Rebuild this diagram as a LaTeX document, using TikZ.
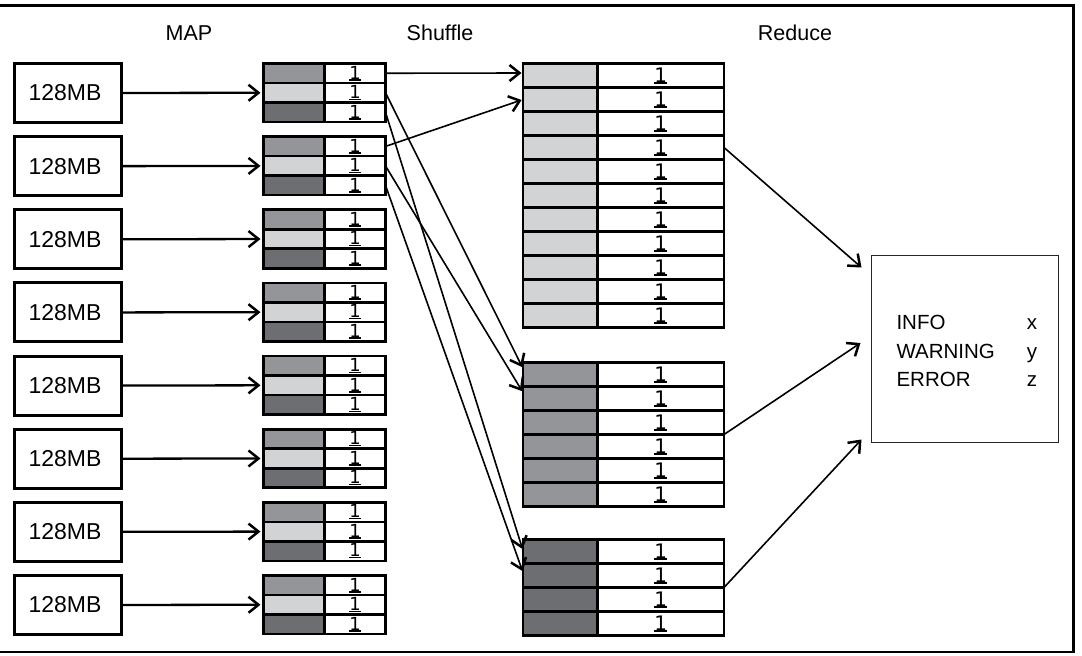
\documentclass[tikz,border=0pt]{standalone}
\usepackage{fontspec}
\setmainfont{Liberation Sans}
\newfontfamily\onefont{DejaVu Sans}
\usetikzlibrary{arrows.meta,calc}
\definecolor{gmed}{RGB}{147,149,152}
\definecolor{glight}{RGB}{209,211,212}
\definecolor{gdark}{RGB}{109,110,113}
\newcommand{\uone}{\setbox0\hbox{\onefont 1}\hbox{\copy0\llap{\rule[-1.5pt]{\wd0}{1.5pt}}}}
\begin{document}
\begin{tikzpicture}[x=1pt,y=-1pt,
  tipv/.style={-{Straight Barb[length=10pt,width=16pt,line width=2.5pt]}},
  mapar/.style={tipv, line width=2.3pt, shorten >=3pt},
  thinar/.style={tipv, line width=1.6pt},
  mapbox/.style={draw, line width=3pt, minimum width=107pt, minimum height=59pt,
    inner sep=0pt, outer sep=0pt, font=\fontsize{23}{27}\selectfont},
  bg/.style={draw, line width=2.6pt, anchor=north west, inner sep=0pt, outer sep=0pt,
    minimum width=61pt, minimum height=19.5pt},
  bw/.style={bg, fill=white, font=\fontsize{18}{19}\selectfont},
  rg/.style={draw, line width=2.5pt, anchor=north west, inner sep=0pt, outer sep=0pt,
    minimum width=74.5pt, minimum height=24pt},
  rw/.style={rg, fill=white, minimum width=126.5pt, font=\fontsize{20}{22}\selectfont},
  head/.style={anchor=base, font=\fontsize{21.5}{24}\selectfont},
  restext/.style={anchor=base west, font=\fontsize{20.5}{24}\selectfont},
  resval/.style={anchor=base, font=\fontsize{20.5}{24}\selectfont},
  resbox/.style={draw=black!85, line width=1.5pt, minimum width=187pt, minimum height=187pt,
    inner sep=0pt, outer sep=0pt}
]
\useasboundingbox (0,0) rectangle (1082,656);
\draw[line width=2.5pt] (-5,5.5) -- (1073.5,5.5) -- (1073.5,652) -- (-5,652);

\node[head] (hmap) at (189,40) {MAP};
\node[head] (hshuf) at (440,40) {Shuffle};
\node[head] (hred) at (795,40) {Reduce};

\foreach \k in {1,...,8} {
  \pgfmathsetmacro\yy{63.5+73.14*(\k-1)}
  \node[mapbox] (m\k) at (68,{\yy+29.5}) {128MB\hspace*{6pt}};
  \foreach \r/\c in {1/gmed,2/glight,3/gdark} {
    \node[bg, fill=\c] (b\k g\r) at (263.5,{\yy+19.5*(\r-1)}) {};
    \node[bw] (b\k w\r) at (324.5,{\yy+19.5*(\r-1)}) {\uone};
  }
  \draw[mapar] (m\k.east) -- (b\k g2.west);
}

\foreach \t/\ty/\n/\c in {1/63.5/11/glight, 2/362.5/6/gmed, 3/539.5/4/gdark} {
  \foreach \r in {1,...,\n} {
    \node[rg, fill=\c] (t\t g\r) at (523,{\ty+24*(\r-1)}) {};
    \node[rw] (t\t w\r) at (597.5,{\ty+24*(\r-1)}) {\uone};
  }
}

\node[resbox] (R) at (965,349) {};
\node[restext] (l1) at (893,329) {INFO};
\node[restext] (l2) at (893,358) {WARNING};
\node[restext] (l3) at (893,386) {ERROR};
\node[resval] (v1) at (1032,329) {x};
\node[resval] (v2) at (1032,358) {y};
\node[resval] (v3) at (1032,386) {z};

\draw[thinar, shorten >=1.5pt] (b1w1.east) -- ([yshift=2.5pt]t1g1.west);
\draw[thinar, shorten >=1.5pt] (b2w1.east) -- (t1g2.west);
\draw[thinar, shorten >=1.5pt] (b1w2.east) -- ([yshift=6pt]t2g1.west);
\draw[thinar, shorten >=1.5pt] (b2w2.east) -- ([yshift=6pt]t2g2.west);
\draw[thinar, shorten >=1.5pt] (b1w3.east) -- ([yshift=1pt]t3g1.west);
\draw[thinar, shorten >=1.5pt] (b2w3.east) -- ([yshift=3pt]t3g2.west);

\draw[thinar] (t1w4.east) -- ([xshift=-10pt,yshift=-12pt]R.north west);
\draw[thinar] (t2w3.south east) -- ([xshift=-11pt,yshift=6pt]R.west);
\draw[thinar] (t3w2.south east) -- ([xshift=-10pt,yshift=3pt]R.south west);
\end{tikzpicture}
\end{document}
